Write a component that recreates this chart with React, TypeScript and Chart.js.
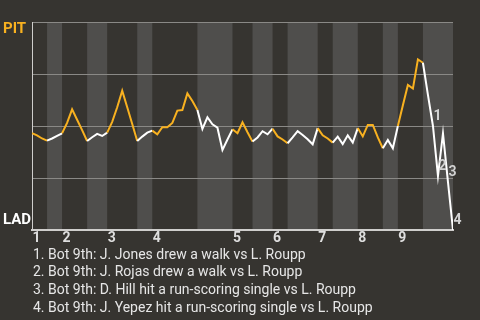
import React, { useEffect, useRef } from 'react';
import { Chart, registerables } from 'chart.js';

Chart.register(...registerables);

// ---- data ----
const inningLabels = ['1', '2', '3', '4', '5', '6', '7', '8', '9'];
const inningStartIdx = [0, 6, 15, 24, 40, 48, 57, 65, 73];
const halfInningStarts = [0, 3, 6, 11, 15, 21, 24, 33, 40, 44, 48, 51, 57, 60, 65, 70, 73, 78, 84];
const winProb = [
  46.5, 45.5, 44, 43, 44, 45.3, 46.5, 51.5, 58, 53,
  48, 42.8, 44.6, 46.2, 45.2, 46.8, 52, 59, 67, 59,
  51, 42.8, 44.9, 46.8, 47.8, 46, 49.4, 49.4, 51.5, 57.4,
  57.7, 65.7, 62, 57.7, 48.6, 54.2, 50.8, 49.2, 38.5, 43.5,
  48.4, 46.5, 51.8, 47, 42.5, 44.5, 47.5, 46, 48.7, 45,
  43.5, 41.7, 44.5, 47.5, 45.7, 43.6, 41.2, 49, 45.5, 44,
  42, 44.9, 41.3, 45.5, 42, 49, 45, 50.5, 50.5, 44.5,
  39.3, 43.3, 39.3, 50, 60, 69.7, 68, 82, 80.4, 65,
  50, 26, 46.5, 23, 0,
];
const teams = ['PIT', 'LAD'];
const markIdx = [80, 81, 83, 84];
const markLabels = ['1', '2', '3', '4'];
const notes = [
  '1. Bot 9th: J. Jones drew a walk vs L. Roupp',
  '2. Bot 9th: J. Rojas drew a walk vs L. Roupp',
  '3. Bot 9th: D. Hill hit a run-scoring single vs L. Roupp',
  '4. Bot 9th: J. Yepez hit a run-scoring single vs L. Roupp',
];

// ---- styles ----
const BG = '#363430';
const BAND = '#4f4e4c';
const ORANGE = '#f8b120';
const WHITE = '#ffffff';
const GRID = '#8a8986';
const AXIS = '#cfcecc';
const TEXT = '#e6e6e6';
const FONT = 'Roboto, "Noto Sans", sans-serif';

function halfOf(i: number) {
  let h = 0;
  for (let k = 0; k < halfInningStarts.length - 1; k++) if (i >= halfInningStarts[k]) h = k;
  return h;
}

const wpPlugin = {
  id: 'wpPlugin',
  beforeDraw(chart: any) {
    const { ctx, chartArea, scales } = chart;
    ctx.save();
    ctx.fillStyle = BG;
    ctx.fillRect(0, 0, chart.width, chart.height);
    ctx.fillStyle = BAND;
    for (let k = 1; k < halfInningStarts.length - 1; k += 2) {
      const x0 = scales.x.getPixelForValue(halfInningStarts[k]);
      const x1 = scales.x.getPixelForValue(halfInningStarts[k + 1]);
      ctx.fillRect(x0, chartArea.top, x1 - x0, chartArea.bottom - chartArea.top);
    }
    ctx.restore();
  },
  afterDatasetsDraw(chart: any) {
    const { ctx, chartArea, scales } = chart;
    const meta = chart.getDatasetMeta(0);
    ctx.save();
    // event markers
    ctx.font = `bold 14px ${FONT}`;
    ctx.fillStyle = '#d2d2d2';
    ctx.textAlign = 'left';
    ctx.textBaseline = 'alphabetic';
    markIdx.forEach((idx, i) => {
      const p = meta.data[idx];
      ctx.fillText(markLabels[i], p.x + 0.5, p.y - 6);
    });
    // inning labels
    ctx.font = `bold 14px ${FONT}`;
    ctx.fillStyle = '#dedede';
    inningStartIdx.forEach((idx, i) => {
      const x = scales.x.getPixelForValue(idx);
      ctx.fillText(inningLabels[i], x + 0.5, chartArea.bottom + 11.7);
    });
    // team labels
    ctx.font = `bold 15px ${FONT}`;
    ctx.fillStyle = ORANGE;
    ctx.fillText(teams[0], 3, chartArea.top + 11);
    ctx.fillStyle = WHITE;
    ctx.fillText(teams[1], 3, chartArea.bottom - 6);
    // notes
    ctx.font = `14px ${FONT}`;
    ctx.fillStyle = TEXT;
    notes.forEach((t, i) => {
      ctx.fillText(t, 33, chartArea.bottom + 28.5 + i * 17.8);
    });
    ctx.restore();
  },
};

export default function App() {
  const ref = useRef<HTMLCanvasElement>(null);
  useEffect(() => {
    document.body.style.margin = '0';
    document.body.style.background = BG;
    const chart = new Chart(ref.current as HTMLCanvasElement, {
      type: 'line',
      data: {
        datasets: [
          {
            data: winProb.map((v, i) => ({ x: i, y: v })),
            borderWidth: 2,
            pointRadius: 0,
            tension: 0,
            borderColor: WHITE,
            segment: {
              borderColor: (c: any) => (halfOf(c.p0DataIndex) % 2 === 0 ? ORANGE : WHITE),
            },
          } as any,
        ],
      },
      options: {
        animation: false,
        responsive: false,
        layout: { padding: { left: 32, top: 22, right: 27, bottom: 90 } },
        plugins: { legend: { display: false }, tooltip: { enabled: false } },
        scales: {
          x: {
            type: 'linear',
            min: 0,
            max: winProb.length - 1,
            ticks: { display: false },
            grid: { display: false, drawTicks: false },
            border: { display: true, color: AXIS, width: 2 },
          },
          y: {
            min: 0,
            max: 100,
            ticks: { display: false, stepSize: 25 },
            grid: { color: GRID, lineWidth: 1, drawTicks: false },
            border: { display: true, color: AXIS, width: 1 },
          },
        },
      },
      plugins: [wpPlugin],
    });
    return () => chart.destroy();
  }, []);
  return (
    <div style={{ width: 480, height: 320, background: BG }}>
      <canvas ref={ref} width={480} height={320} />
    </div>
  );
}
